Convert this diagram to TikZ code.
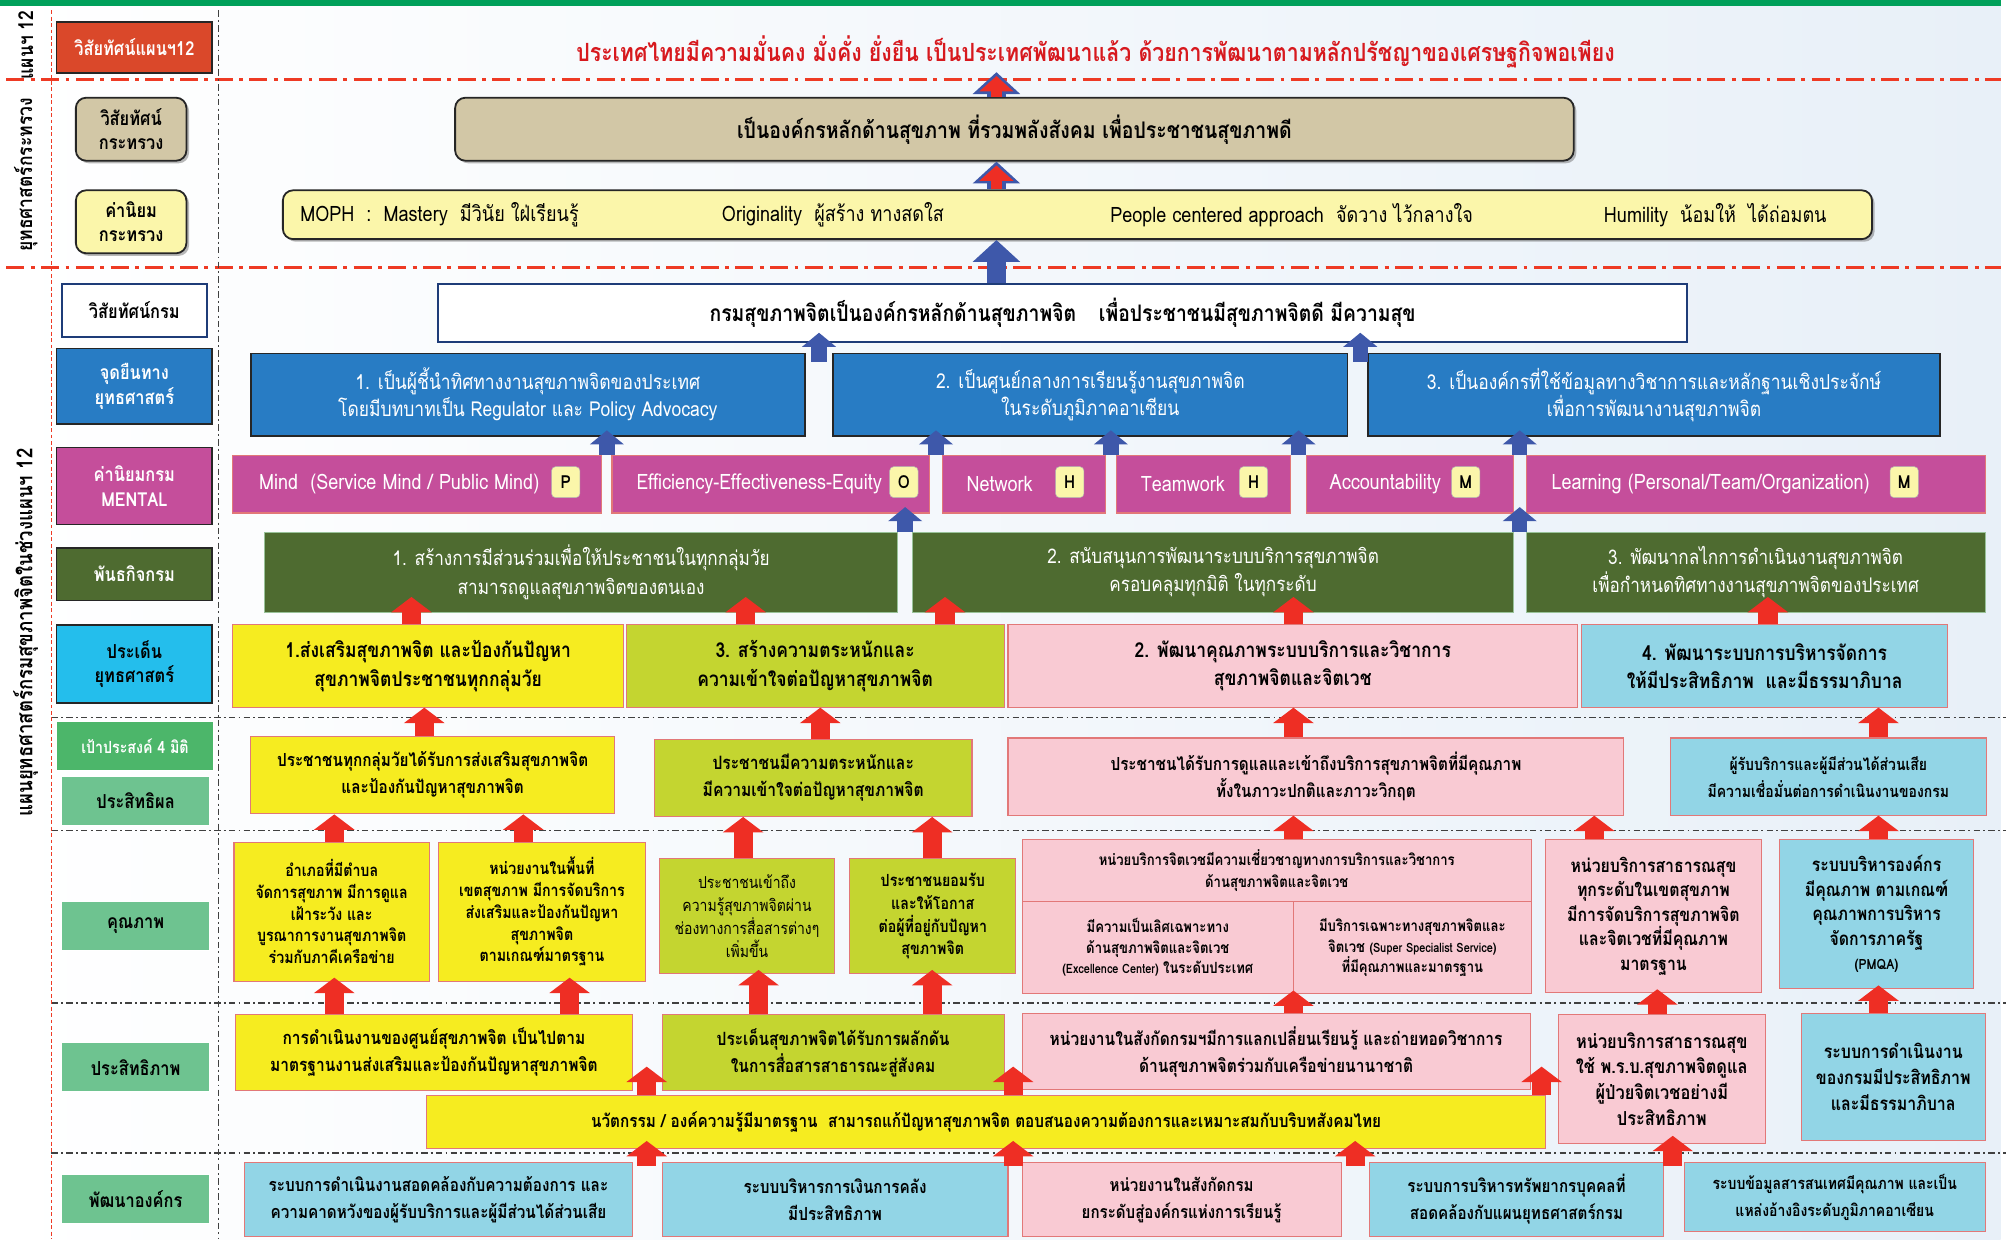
\documentclass[tikz,border=0pt]{standalone}
\usepackage{fontspec}
\setmainfont{Loma}[Script=Thai,FakeStretch=0.85]
\usetikzlibrary{arrows.meta,shadows}

\definecolor{topgreen}{RGB}{0,160,90}
\definecolor{bgblue}{RGB}{232,240,248}
\definecolor{dashred}{RGB}{238,58,36}
\definecolor{titlered}{RGB}{215,25,30}
\definecolor{planred}{RGB}{218,72,42}
\definecolor{vistan}{RGB}{210,199,166}
\definecolor{paleyel}{RGB}{251,246,170}
\definecolor{posblue}{RGB}{40,124,196}
\definecolor{mentmag}{RGB}{197,78,155}
\definecolor{misgreen}{RGB}{78,107,48}
\definecolor{isscyan}{RGB}{36,190,236}
\definecolor{goalgreen}{RGB}{76,182,106}
\definecolor{dimgreen}{RGB}{110,195,144}
\definecolor{boxyel}{RGB}{246,236,32}
\definecolor{boxlime}{RGB}{196,213,48}
\definecolor{boxpink}{RGB}{249,202,211}
\definecolor{boxblue}{RGB}{146,213,230}
\definecolor{boxedge}{RGB}{226,120,120}
\definecolor{arrred}{RGB}{238,46,36}
\definecolor{arrblue}{RGB}{62,88,170}
\definecolor{visblue}{RGB}{30,60,120}

\tikzset{
  wh/.style 2 args={minimum width=#1pt, minimum height=#2pt},
  fs/.style 2 args={font=\fontsize{#1}{#2}\selectfont\bfseries},
  fsr/.style 2 args={font=\fontsize{#1}{#2}\selectfont},
  lbl/.style={draw=black!85, line width=1.3pt, inner sep=1pt, align=center, fs={15}{19}},
  dimlbl/.style={draw=white, line width=0.6pt, inner sep=1pt, align=center, fs={15}{19}},
  sidetxt/.style={rotate=90, fs={16}{18}},
  roundbox/.style={draw=black!85, line width=1.4pt, rounded corners=8pt, drop shadow={shadow xshift=2pt, shadow yshift=-2pt, fill=black!55}},
  cell/.style={draw=boxedge, line width=0.8pt, inner sep=1pt, align=center},
  headtxt/.style={fsr={16}{21}, text=white},
  badge/.style={draw=black!30, fill=paleyel, rounded corners=3pt, inner sep=0pt, wh={22}{24}, fs={14}{14}},
  redarr/.style={draw=arrred, line width=15pt, -{Triangle[width=31pt,length=12pt]}},
  bluearr/.style={draw=arrblue, line width=12pt, -{Triangle[width=26pt,length=11pt]}},
  bigblue/.style={draw=arrblue, line width=15pt, -{Triangle[width=36pt,length=17pt]}},
  bigred/.style={draw=arrred, line width=8pt, -{Triangle[width=26pt,length=12pt]}},
  reach/.style={shorten >=-#1pt},
  reddash/.style={draw=dashred, line width=2.6pt, dash pattern=on 14pt off 5pt on 3pt off 5pt},
  blkdash/.style={draw=black!75, line width=1.3pt, dash pattern=on 5pt off 2.5pt on 1.5pt off 2.5pt},
}

\begin{document}
\begin{tikzpicture}[x=1pt,y=-1pt]
\useasboundingbox (0,0) rectangle (1568,964);
\fill[left color=white, right color=bgblue] (0,0) rectangle (1556,964);
\fill[topgreen] (0,0) rectangle (1556,5);

% frame lines
\draw[reddash] (5,62) -- (1556,62);
\draw[reddash] (5,208) -- (1556,208);
\foreach \yy in {558,646,780,897}
  \draw[blkdash] (40,\yy) -- (1560,\yy);
\draw[draw=dashred, line width=1.2pt, dash pattern=on 3pt off 2pt] (40,8) -- (40,964);
\draw[blkdash] (170,8) -- (170,964);

% side labels
\node[sidetxt] (s1) at (20,35) {แผนฯ 12};
\node[sidetxt] (s2) at (20,136) {ยุทธศาสตร์กระทรวง};
\node[sidetxt, fs={17}{19}] (s3) at (20,492) {แผนยุทธศาสตร์กรมสุขภาพจิตในช่วงแผนฯ 12};

% row labels
\node[lbl, fill=planred, text=white, wh={121}{40}] (l1) at (104.5,37) {วิสัยทัศน์แผนฯ12};
\node[lbl, roundbox, fill=vistan, wh={86}{49}] (l2) at (102,100.5) {วิสัยทัศน์\\กระทรวง};
\node[lbl, roundbox, fill=paleyel, wh={86}{49}] (l3) at (102,172.5) {ค่านิยม\\กระทรวง};
\node[lbl, draw=visblue, fill=white, wh={113}{41}] (l4) at (104.5,241.5) {วิสัยทัศน์กรม};
\node[lbl, fill=posblue, text=white, wh={121}{59}] (l5) at (104.5,300.5) {จุดยืนทาง\\ยุทธศาสตร์};
\node[lbl, fill=mentmag, text=white, wh={121}{60}] (l6) at (104.5,378) {ค่านิยมกรม\\MENTAL};
\node[lbl, fill=misgreen, text=white, wh={121}{41}] (l7) at (104.5,446.5) {พันธกิจกรม};
\node[lbl, fill=isscyan, wh={121}{61}] (l8) at (104.5,516.5) {ประเด็น\\ยุทธศาสตร์};
\node[dimlbl, fill=goalgreen, text=white, wh={122}{38}, fs={13}{15}] (l9) at (105,580) {เป้าประสงค์ 4 มิติ};
\node[dimlbl, fill=dimgreen, wh={115}{38}] (l10) at (105.5,623) {ประสิทธิผล};
\node[dimlbl, fill=dimgreen, wh={115}{38}] (l11) at (105.5,720) {คุณภาพ};
\node[dimlbl, fill=dimgreen, wh={115}{38}] (l12) at (105.5,830) {ประสิทธิภาพ};
\node[dimlbl, fill=dimgreen, wh={115}{38}] (l13) at (105.5,932.5) {พัฒนาองค์กร};

% vision and values
\node[text=titlered, fs={19.5}{22}] (title) at (852,40) {ประเทศไทยมีความมั่นคง มั่งคั่ง ยั่งยืน เป็นประเทศพัฒนาแล้ว ด้วยการพัฒนาตามหลักปรัชญาของเศรษฐกิจพอเพียง};
\node[roundbox, fill=vistan, wh={870}{49}, fs={17.8}{20}] (vis1) at (789,100.5) {เป็นองค์กรหลักด้านสุขภาพ ที่รวมพลังสังคม เพื่อประชาชนสุขภาพดี};
\node[roundbox, fill=paleyel, wh={1236}{38}] (val) at (838,167) {};
\node[anchor=west, fsr={16.5}{18}] (v1) at (230,167) {MOPH\ \ :\ \ Mastery\ \ มีวินัย ใฝ่เรียนรู้};
\node[anchor=west, fsr={16.5}{18}] (v2) at (558,167) {Originality\ \ ผู้สร้าง ทางสดใส};
\node[anchor=west, fsr={16.5}{18}] (v3) at (860,167) {People centered approach\ \ จัดวาง ไว้กลางใจ};
\node[anchor=west, fsr={16.5}{18}] (v4) at (1244,167) {Humility\ \ น้อมให้\ \ ได้ถ่อมตน};
\node[draw=visblue, line width=1.6pt, fill=white, wh={971}{45}, fs={17.7}{20}] (vis2) at (826.5,243.5) {กรมสุขภาพจิตเป็นองค์กรหลักด้านสุขภาพจิต\quad เพื่อประชาชนมีสุขภาพจิตดี\ มีความสุข};

% positions
\node[draw=black!85, line width=1.4pt, fill=posblue, align=center, headtxt, wh={431}{64}] (pos1) at (410.5,307) {1. เป็นผู้ชี้นำทิศทางงานสุขภาพจิตของประเทศ\\โดยมีบทบาทเป็น Regulator และ Policy Advocacy};
\node[draw=black!85, line width=1.4pt, fill=posblue, align=center, headtxt, wh={400}{64}] (pos2) at (848,307) {2. เป็นศูนย์กลางการเรียนรู้งานสุขภาพจิต\\ในระดับภูมิภาคอาเซียน};
\node[draw=black!85, line width=1.4pt, fill=posblue, align=center, headtxt, wh={445}{64}] (pos3) at (1286.5,307) {3. เป็นองค์กรที่ใช้ข้อมูลทางวิชาการและหลักฐานเชิงประจักษ์\\เพื่อการพัฒนางานสุขภาพจิต};

% values MENTAL
\node[cell, fill=mentmag, headtxt, fsr={16.5}{20}, wh={287}{45}] (m1) at (324.5,376.5) {Mind\ \ (Service Mind / Public Mind)\hspace*{28pt}};
\node[cell, fill=mentmag, headtxt, fsr={16.5}{20}, wh={247}{45}] (m2) at (599.5,376.5) {Efficiency-Effectiveness-Equity\hspace*{18pt}};
\node[cell, fill=mentmag, headtxt, fsr={16.5}{20}, wh={127}{45}] (m3) at (796.5,376.5) {Network\hspace*{38pt}};
\node[cell, fill=mentmag, headtxt, fsr={16.5}{20}, wh={136}{45}] (m4) at (936,376.5) {Teamwork\hspace*{32pt}};
\node[cell, fill=mentmag, headtxt, fsr={16.5}{20}, wh={161}{45}] (m5) at (1096.5,376.5) {Accountability\hspace*{38pt}};
\node[cell, fill=mentmag, headtxt, fsr={16.5}{20}, wh={357}{45}] (m6) at (1365.5,376.5) {Learning (Personal/Team/Organization)\hspace*{70pt}};
\node[badge] (b1) at (440,375) {P};
\node[badge] (b2) at (703,375) {O};
\node[badge] (b3) at (832,375) {H};
\node[badge] (b4) at (975,375) {H};
\node[badge] (b5) at (1140,375) {M};
\node[badge] (b6) at (1481,375) {M};

% missions
\node[draw=green!40!black!40, line width=0.6pt, fill=misgreen, align=center, headtxt, fsr={15.7}{22}, wh={492}{62}] (mis1) at (452,445) {1. สร้างการมีส่วนร่วมเพื่อให้ประชาชนในทุกกลุ่มวัย\\สามารถดูแลสุขภาพจิตของตนเอง};
\node[draw=green!40!black!40, line width=0.6pt, fill=misgreen, align=center, headtxt, fsr={15.7}{22}, wh={467}{62}] (mis2) at (943.5,445) {2. สนับสนุนการพัฒนาระบบบริการสุขภาพจิต\\ครอบคลุมทุกมิติ ในทุกระดับ};
\node[draw=green!40!black!40, line width=0.6pt, fill=misgreen, align=center, headtxt, fsr={15.7}{22}, wh={357}{62}] (mis3) at (1365.5,445) {3. พัฒนากลไกการดำเนินงานสุขภาพจิต\\เพื่อกำหนดทิศทางงานสุขภาพจิตของประเทศ};

% strategic issues
\node[cell, fill=boxyel, fs={16}{22}, wh={304}{64}] (iss1) at (333,518) {1.ส่งเสริมสุขภาพจิต และป้องกันปัญหา\\สุขภาพจิตประชาชนทุกกลุ่มวัย};
\node[cell, fill=boxlime, fs={16}{22}, wh={294}{64}] (iss3) at (634,518) {3. สร้างความตระหนักและ\\ความเข้าใจต่อปัญหาสุขภาพจิต};
\node[cell, fill=boxpink, fs={16}{22}, wh={443}{64}] (iss2) at (1005.5,518) {2. พัฒนาคุณภาพระบบบริการและวิชาการ\\สุขภาพจิตและจิตเวช};
\node[cell, fill=boxblue, fs={16}{22}, wh={285}{64}] (iss4) at (1372.5,518) {4. พัฒนาระบบการบริหารจัดการ\\ให้มีประสิทธิภาพ\ \ และมีธรรมาภิบาล};

% effectiveness
\node[cell, fill=boxyel, fs={14}{21}, wh={283}{60}] (ef1) at (336.5,603) {ประชาชนทุกกลุ่มวัยได้รับการส่งเสริมสุขภาพจิต\\และป้องกันปัญหาสุขภาพจิต};
\node[cell, fill=boxlime, fs={14.3}{21}, wh={247}{60}] (ef2) at (632.5,605) {ประชาชนมีความตระหนักและ\\มีความเข้าใจต่อปัญหาสุขภาพจิต};
\node[cell, fill=boxpink, fs={14}{21}, wh={479}{60}] (ef3) at (1023.5,604) {ประชาชนได้รับการดูแลและเข้าถึงบริการสุขภาพจิตที่มีคุณภาพ\\ทั้งในภาวะปกติและภาวะวิกฤต};
\node[cell, fill=boxblue, fs={12.8}{21}, wh={246}{60}] (ef4) at (1422,604) {ผู้รับบริการและผู้มีส่วนได้ส่วนเสีย\\มีความเชื่อมั่นต่อการดำเนินงานของกรม};

% quality
\node[cell, fill=boxyel, fs={13}{17}, wh={152}{108}] (q1) at (258,709) {อำเภอที่มีตำบล\\จัดการสุขภาพ มีการดูแล\\เฝ้าระวัง และ\\บูรณาการงานสุขภาพจิต\\ร่วมกับภาคีเครือข่าย};
\node[cell, fill=boxyel, fs={13}{17}, wh={161}{108}] (q2) at (421.5,709) {หน่วยงานในพื้นที่\\เขตสุขภาพ มีการจัดบริการ\\ส่งเสริมและป้องกันปัญหา\\สุขภาพจิต\\ตามเกณฑ์มาตรฐาน};
\node[cell, fill=boxlime, fsr={12.8}{17.7}, wh={136}{89}] (q3) at (581,712.5) {ประชาชนเข้าถึง\\ความรู้สุขภาพจิตผ่าน\\ช่องทางการสื่อสารต่างๆ\\เพิ่มขึ้น};
\node[cell, fill=boxlime, fs={13}{17.7}, wh={129}{89}] (q4) at (725.5,712.5) {ประชาชนยอมรับ\\และให้โอกาส\\ต่อผู้ที่อยู่กับปัญหา\\สุขภาพจิต};
\node[cell, fill=boxpink, fs={12}{17}, wh={396}{48}] (q5top) at (993,677) {หน่วยบริการจิตเวชมีความเชี่ยวชาญทางการบริการและวิชาการ\\ด้านสุขภาพจิตและจิตเวช};
\node[cell, fill=boxpink, fs={12}{16}, wh={211}{72}] (q5a) at (900.5,737) {มีความเป็นเลิศเฉพาะทาง\\ด้านสุขภาพจิตและจิตเวช\\{\fontsize{10}{16}\selectfont (Excellence Center)} ในระดับประเทศ};
\node[cell, fill=boxpink, fs={12}{16}, wh={185}{72}] (q5b) at (1098.5,737) {มีบริการเฉพาะทางสุขภาพจิตและ\\จิตเวช {\fontsize{10}{16}\selectfont (Super Specialist Service)}\\ที่มีคุณภาพและมาตรฐาน};
\node[cell, fill=boxpink, fs={14.5}{19}, wh={168}{119}] (q6) at (1286,712.5) {หน่วยบริการสาธารณสุข\\ทุกระดับในเขตสุขภาพ\\มีการจัดบริการสุขภาพจิต\\และจิตเวชที่มีคุณภาพ\\มาตรฐาน};
\node[cell, fill=boxblue, fs={14.5}{19}, wh={151}{116}] (q7) at (1459.5,711) {ระบบบริหารองค์กร\\มีคุณภาพ ตามเกณฑ์\\คุณภาพการบริหาร\\จัดการภาครัฐ\\{\fontsize{11}{19}\selectfont (PMQA)}};

% efficiency
\node[cell, fill=boxyel, fs={14.2}{21}, wh={309}{59}] (p1) at (337.5,818.5) {การดำเนินงานของศูนย์สุขภาพจิต เป็นไปตาม\\มาตรฐานงานส่งเสริมและป้องกันปัญหาสุขภาพจิต};
\node[cell, fill=boxlime, fs={14.2}{21}, wh={266}{59}] (p2) at (648,818.5) {ประเด็นสุขภาพจิตได้รับการผลักดัน\\ในการสื่อสารสาธารณะสู่สังคม};
\node[cell, fill=boxpink, fs={14.2}{21}, wh={395}{59}] (p3) at (992.5,818) {หน่วยงานในสังกัดกรมฯมีการแลกเปลี่ยนเรียนรู้ และถ่ายทอดวิชาการ\\ด้านสุขภาพจิตร่วมกับเครือข่ายนานาชาติ};
\node[cell, fill=boxpink, fs={15}{20}, wh={161}{100}] (p4) at (1292.5,839) {หน่วยบริการสาธารณสุข\\ใช้ พ.ร.บ.สุขภาพจิตดูแล\\ผู้ป่วยจิตเวชอย่างมี\\ประสิทธิภาพ};
\node[cell, fill=boxblue, fs={14.6}{20}, wh={143}{99}] (p5) at (1472.5,837.5) {ระบบการดำเนินงาน\\ของกรมมีประสิทธิภาพ\\และมีธรรมาภิบาล};
\node[cell, fill=boxyel, fs={14}{21}, wh={870}{41}] (long) at (767,872.5) {นวัตกรรม / องค์ความรู้มีมาตรฐาน\ \ สามารถแก้ปัญหาสุขภาพจิต ตอบสนองความต้องการและเหมาะสมกับบริบทสังคมไทย};

% organisation
\node[cell, fill=boxblue, fs={14}{21}, wh={302}{58}] (d1) at (341,933) {ระบบการดำเนินงานสอดคล้องกับความต้องการ และ\\ความคาดหวังของผู้รับบริการและผู้มีส่วนได้ส่วนเสีย};
\node[cell, fill=boxblue, fs={14}{21}, wh={269}{58}] (d2) at (649.5,933) {ระบบบริหารการเงินการคลัง\\มีประสิทธิภาพ};
\node[cell, fill=boxpink, fs={13.8}{21}, wh={248}{58}] (d3) at (919,933) {หน่วยงานในสังกัดกรม\\ยกระดับสู่องค์กรแห่งการเรียนรู้};
\node[cell, fill=boxblue, fs={13.9}{21}, wh={229}{58}] (d4) at (1179.5,933) {ระบบการบริหารทรัพยากรบุคคลที่\\สอดคล้องกับแผนยุทธศาสตร์กรม};
\node[cell, fill=boxblue, fs={12.8}{21}, wh={234}{54}] (d5) at (1427,931) {ระบบข้อมูลสารสนเทศมีคุณภาพ และเป็น\\แหล่งอ้างอิงระดับภูมิภาคอาเซียน};

% big arrows
\draw[bigblue] (vis2.north -| 775,0) -- (val.south -| 775,0);
\draw[bigblue] (val.north -| 775,0) -- (vis1.south -| 775,0);
\draw[bigred, shorten >=3pt] (val.north -| 775,0) -- (vis1.south -| 775,0);
\draw[bigblue] (vis1.north -| 775,0) -- (title.south -| 775,0);
\draw[bigred, shorten >=3pt] (vis1.north -| 775,0) -- (title.south -| 775,0);

% blue arrows
\draw[bluearr, reach=8, shorten <=-7pt] (pos1.north -| 637,0) -- (vis2.south -| 637,0);
\draw[bluearr, reach=8, shorten <=-7pt] (pos3.north -| 1058,0) -- (vis2.south -| 1058,0);
\foreach \src/\dst/\xx in {m1/pos1/472, m2/pos2/728, m3/pos2/864, m4/pos2/1010, m5/pos3/1182, mis1/m2/704, mis3/m6/1182}
  \draw[bluearr, reach=5] (\src.north -| \xx,0) -- (\dst.south -| \xx,0);

% red arrows
\foreach \src/\dst/\xx in {iss1/mis1/320, iss3/mis1/580, iss3/mis2/735, iss2/mis2/1006, iss4/mis3/1375}
  \draw[redarr, reach=12] (\src.north -| \xx,0) -- (\dst.south -| \xx,0);
\foreach \src/\dst/\xx in {ef1/iss1/330, ef2/iss3/638, ef3/iss2/1006, ef4/iss4/1461,
    q1/ef1/260, q2/ef1/407, q3/ef2/578, q4/ef2/725, q5top/ef3/1006, q6/ef3/1240, q7/ef4/1461}
  \draw[redarr] (\src.north -| \xx,0) -- (\dst.south -| \xx,0);
\foreach \src/\dst/\xx in {p1/q1/260, p1/q2/443, p2/q3/590, p2/q4/725, p3/q5a/1006, p4/q6/1289, p5/q7/1461}
  \draw[redarr, reach=3] (\src.north -| \xx,0) -- (\dst.south -| \xx,0);
\foreach \xx in {503,788,1199}
  \draw[redarr] (long.north -| \xx,0) -- ++(0,-22);
\foreach \src/\dst/\xx in {d1/long/503, d2/long/788, d3/long/1054, d4/p4/1301}
  \draw[redarr, reach=6, shorten <=-3pt] (\src.north -| \xx,0) -- (\dst.south -| \xx,0);
\end{tikzpicture}
\end{document}
